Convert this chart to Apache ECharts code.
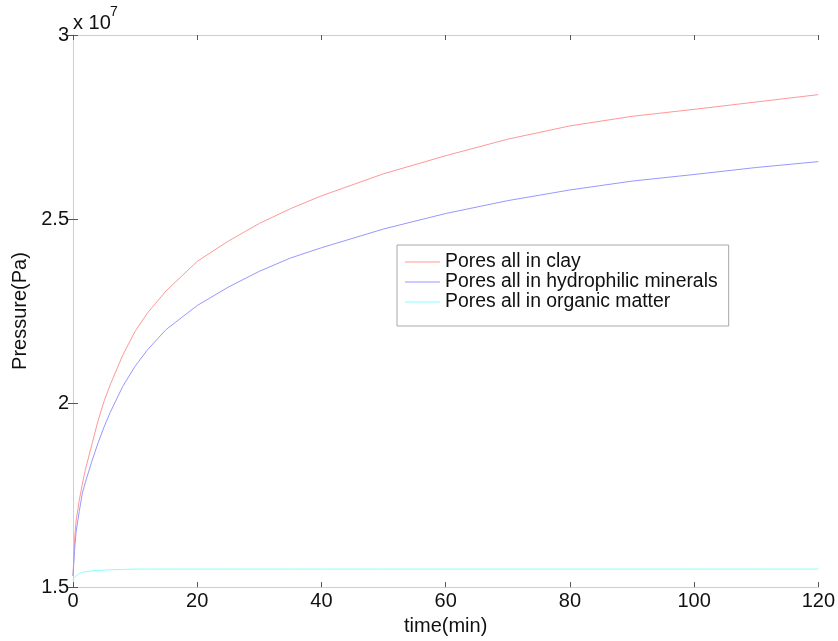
<!DOCTYPE html>
<html>
<head>
<meta charset="utf-8">
<script src="https://cdn.jsdelivr.net/npm/echarts@6/dist/echarts.min.js"></script>
<style>html,body{margin:0;padding:0;background:#fff}#c{width:838px;height:641px}</style>
</head>
<body>
<div id="c"></div>
<script>
// time (min)
var times = [0, 0.25, 0.5, 1, 1.5, 2, 3, 4, 5, 6, 8, 10, 12, 15, 20, 25, 30, 35, 40, 50, 60, 70, 80, 90, 100, 110, 120];
// pressure in units of 10^7 Pa
var clay = [1.53, 1.63, 1.68, 1.735, 1.78, 1.82, 1.885, 1.95, 2.005, 2.05, 2.13, 2.195, 2.245, 2.305, 2.385, 2.44, 2.488, 2.528, 2.563, 2.623, 2.672, 2.717, 2.753, 2.779, 2.798, 2.818, 2.838];
var hydrophilic = [1.53, 1.6, 1.65, 1.705, 1.755, 1.785, 1.84, 1.89, 1.935, 1.975, 2.045, 2.1, 2.145, 2.2, 2.265, 2.315, 2.358, 2.394, 2.422, 2.473, 2.515, 2.55, 2.579, 2.603, 2.621, 2.64, 2.656];
var organic = [1.52, 1.527, 1.532, 1.537, 1.54, 1.542, 1.544, 1.545, 1.546, 1.547, 1.548, 1.549, 1.549, 1.549, 1.549, 1.549, 1.549, 1.549, 1.549, 1.549, 1.549, 1.549, 1.549, 1.549, 1.549, 1.549, 1.549];
var seriesNames = ['Pores all in clay', 'Pores all in hydrophilic minerals', 'Pores all in organic matter'];
var xTicks = [0, 20, 40, 60, 80, 100, 120];
var yTicks = [1.5, 2, 2.5, 3];

function pairs(arr) { return times.map(function (t, i) { return [t, arr[i]]; }); }

var FONT = '"Liberation Sans", Arial, sans-serif';
var axisGray = '#cfcfcf';
var tickDark = '#555';
var colors = ['#ff9898', '#9898ff', '#88ffff'];

var chart = echarts.init(document.getElementById('c'));
chart.setOption({
  animation: false,
  backgroundColor: '#fff',
  grid: { left: 73, right: 19, top: 35, bottom: 50 },
  xAxis: [{
    type: 'value', min: xTicks[0], max: xTicks[xTicks.length - 1], interval: 20,
    name: 'time(min)', nameLocation: 'middle', nameGap: 26,
    nameTextStyle: { fontFamily: FONT, fontSize: 20, color: '#111' },
    axisLine: { show: true, lineStyle: { color: axisGray, width: 1 } },
    axisTick: { show: true, inside: true, length: 5, lineStyle: { color: tickDark } },
    axisLabel: { fontFamily: FONT, fontSize: 20, color: '#111', margin: 4 },
    splitLine: { show: false }
  }, {
    type: 'value', position: 'top', min: 0, max: 120, interval: 20,
    axisLine: { show: true, lineStyle: { color: axisGray, width: 1 } },
    axisTick: { show: true, inside: true, length: 5, lineStyle: { color: tickDark } },
    axisLabel: { show: false }, splitLine: { show: false }
  }],
  yAxis: [{
    type: 'value', min: yTicks[0], max: yTicks[yTicks.length - 1], interval: 0.5,
    name: 'Pressure(Pa)', nameLocation: 'middle', nameGap: 39, nameRotate: 90,
    nameTextStyle: { fontFamily: FONT, fontSize: 20, color: '#111' },
    axisLine: { show: true, lineStyle: { color: axisGray, width: 1 } },
    axisTick: { show: true, inside: true, length: 5, lineStyle: { color: tickDark } },
    axisLabel: { fontFamily: FONT, fontSize: 20, color: '#111', margin: 4 },
    splitLine: { show: false }
  }, {
    type: 'value', position: 'right', min: 1.5, max: 3, interval: 0.5,
    axisLine: { show: true, lineStyle: { color: axisGray, width: 1 } },
    axisTick: { show: true, inside: true, length: 5, lineStyle: { color: tickDark } },
    axisLabel: { show: false }, splitLine: { show: false }
  }],
  legend: {
    show: true,
    orient: 'vertical', left: 397, top: 245,
    padding: [7, 11, 14, 8], itemGap: 0, itemWidth: 35, itemHeight: 1,
    icon: 'rect',
    borderColor: '#a8a8a8', borderWidth: 1, backgroundColor: '#fff',
    textStyle: { fontFamily: FONT, fontSize: 19.4, color: '#111', lineHeight: 20 },
    data: seriesNames
  },
  series: [
    { name: seriesNames[0], type: 'line', data: pairs(clay), smooth: false, symbol: 'none', itemStyle: { color: colors[0] }, lineStyle: { width: 1, color: colors[0] } },
    { name: seriesNames[1], type: 'line', data: pairs(hydrophilic), smooth: false, symbol: 'none', itemStyle: { color: colors[1] }, lineStyle: { width: 1, color: colors[1] } },
    { name: seriesNames[2], type: 'line', data: pairs(organic), smooth: false, symbol: 'none', itemStyle: { color: colors[2] }, lineStyle: { width: 1, color: colors[2] } }
  ],
  graphic: [
    { type: 'text', left: 73, top: 13, style: { text: 'x 10', fontFamily: FONT, fontSize: 20, fill: '#111' } },
    { type: 'text', left: 110, top: 5, style: { text: '7', fontFamily: FONT, fontSize: 14, fill: '#111' } }
  ]
});
</script>
</body>
</html>
